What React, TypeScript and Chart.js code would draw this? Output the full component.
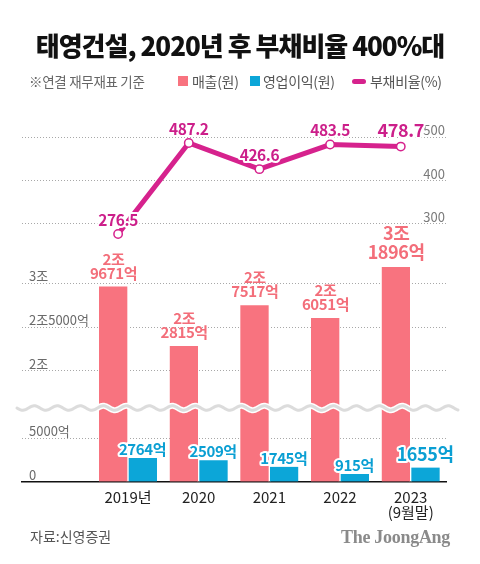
import React, { useEffect, useRef } from 'react';
import { Chart, registerables } from 'chart.js';

Chart.register(...registerables);

// ---- data (revenue / operating profit in 억원, debt ratio in %) ----
const years: (string | string[])[] = ['2019년', '2020', '2021', '2022', ['2023', '(9월말)']];
const revenue = [29671, 22815, 27517, 26051, 31896];
const opProfit = [2764, 2509, 1745, 915, 1655];
const debtRatio = [276.5, 487.2, 426.6, 483.5, 478.7];
const leftTickValues = [0, 5000, 20000, 25000, 30000];
const leftTickLabels = ['0', '5000억', '2조', '2조5000억', '3조'];
const rightTickValues = [300, 400, 500];

// ---- broken axis mapping ----
const BREAK_FROM = 10000;
const BREAK_SHIFT = 7200;
const BREAK_AT = 8500;
const toDisplay = (v: number) => (v >= BREAK_FROM ? v - BREAK_SHIFT : v);
const fmtEok = (v: number): string[] => {
  const jo = Math.floor(v / 10000);
  const eok = v % 10000;
  return jo > 0 ? [jo + '조', eok + '억'] : [eok + '억'];
};
// the debt-ratio line sits slightly left of the bar-group centre
const LINE_SHIFT = -0.14;

const PINK = '#f8737f';
const PINK_TEXT = '#f36e7a';
const BLUE = '#0ca6d8';
const BLUE_TEXT = '#0a9fd3';
const MAGENTA = '#d6228d';
const MAGENTA_TEXT = '#cc1f8a';
const FONT = "'Noto Sans CJK KR', 'Noto Sans', sans-serif";

const labelPlugin = {
  id: 'labels',
  afterDatasetsDraw(chart: any) {
    const ctx = chart.ctx as any;
    const area = chart.chartArea;
    // wavy break line
    const yb = chart.scales.y.getPixelForValue(BREAK_AT);
    const x0 = area.left - 5;
    const x1 = area.right + 12;
    const wave = () => {
      ctx.beginPath();
      for (let x = x0; x <= x1; x += 1) {
        const y = yb + 2.2 * Math.sin(((x - x0) / 23) * Math.PI * 2);
        if (x === x0) ctx.moveTo(x, y);
        else ctx.lineTo(x, y);
      }
      ctx.stroke();
    };
    ctx.save();
    ctx.lineCap = 'round';
    ctx.strokeStyle = '#ffffff';
    ctx.lineWidth = 6;
    wave();
    ctx.strokeStyle = '#dcdcdc';
    ctx.lineWidth = 3;
    wave();
    ctx.restore();

    ctx.save();
    ctx.textAlign = 'center';
    ctx.textBaseline = 'middle';
    ctx.lineJoin = 'round';
    ctx.letterSpacing = '-0.4px';
    // revenue labels
    const m0 = chart.getDatasetMeta(0);
    revenue.forEach((v, i) => {
      const el = m0.data[i];
      const big = i === revenue.length - 1;
      const fs = big ? 18 : 15;
      const lh = big ? 19 : 14;
      const lines = fmtEok(v);
      ctx.font = `700 ${fs}px ${FONT}`;
      ctx.fillStyle = PINK_TEXT;
      const yLast = el.y - (big ? 15 : 13.5);
      for (let k = lines.length - 1; k >= 0; k--) {
        ctx.fillText(lines[k], el.x, yLast - (lines.length - 1 - k) * lh);
      }
    });
    // operating profit labels
    const m1 = chart.getDatasetMeta(1);
    opProfit.forEach((v, i) => {
      const el = m1.data[i];
      const big = i === opProfit.length - 1;
      const fs = big ? 18 : 15;
      ctx.font = `700 ${fs}px ${FONT}`;
      const y = el.y - (big ? 13 : 9);
      ctx.strokeStyle = '#ffffff';
      ctx.lineWidth = 4;
      ctx.strokeText(v + '억', el.x, y);
      ctx.fillStyle = BLUE_TEXT;
      ctx.fillText(v + '억', el.x, y);
    });
    // debt ratio labels
    const m2 = chart.getDatasetMeta(2);
    debtRatio.forEach((v, i) => {
      const el = m2.data[i];
      const big = i === debtRatio.length - 1;
      const fs = big ? 18 : 15.5;
      ctx.font = `700 ${fs}px ${FONT}`;
      const y = el.y - (big ? 16 : 14);
      ctx.strokeStyle = '#ffffff';
      ctx.lineWidth = 4;
      ctx.strokeText(v.toFixed(1), el.x, y);
      ctx.fillStyle = MAGENTA_TEXT;
      ctx.fillText(v.toFixed(1), el.x, y);
    });
    ctx.restore();
  },
};

export default function App() {
  const canvasRef = useRef<HTMLCanvasElement | null>(null);

  useEffect(() => {
    if (!canvasRef.current) return;
    Chart.defaults.font.family = FONT;

    const chart = new Chart(canvasRef.current, {
      type: 'bar',
      data: {
        datasets: [
          {
            label: '매출(원)',
            data: revenue.map((v, i) => ({ x: i + 1, y: toDisplay(v) })),
            backgroundColor: PINK,
            borderColor: '#ffffff',
            borderWidth: { top: 0, right: 1, bottom: 0, left: 0 },
            borderSkipped: false,
            barThickness: 29,
            order: 2,
          } as any,
          {
            label: '영업이익(원)',
            data: opProfit.map((v, i) => ({ x: i + 1, y: v })),
            backgroundColor: BLUE,
            borderColor: '#ffffff',
            borderWidth: { top: 0, right: 0, bottom: 0, left: 1 },
            borderSkipped: false,
            barThickness: 29,
            order: 2,
          } as any,
          {
            type: 'line',
            label: '부채비율(%)',
            data: debtRatio.map((v, i) => ({ x: i + 1 + LINE_SHIFT, y: v })),
            yAxisID: 'y2',
            borderColor: MAGENTA,
            borderWidth: 5,
            pointRadius: 4.2,
            pointBackgroundColor: '#ffffff',
            pointBorderColor: MAGENTA,
            pointBorderWidth: 1.5,
            tension: 0,
            order: 1,
          } as any,
        ],
      },
      options: {
        responsive: false,
        animation: false,
        events: [],
        layout: { padding: { left: 22, right: 34, top: 92, bottom: 42 } },
        plugins: { legend: { display: false }, tooltip: { enabled: false } },
        scales: {
          x: {
            type: 'linear',
            offset: false,
            min: -0.5,
            max: years.length + 0.5,
            afterBuildTicks: (s: any) => {
              s.ticks = years.map((_y, i) => ({ value: i + 1 }));
            },
            grid: { display: false },
            border: { display: true, color: '#111111', width: 1.5 },
            ticks: {
              color: '#222222',
              font: { size: 15, lineHeight: 1.0 },
              padding: 0,
              maxRotation: 0,
              autoSkip: false,
              callback: (_v: any, i: number) => years[i],
            },
            afterFit: (s: any) => {
              s.height = 40;
            },
          },
          y: {
            type: 'linear',
            position: 'left',
            min: 0,
            max: 44800,
            afterBuildTicks: (s: any) => {
              s.ticks = leftTickValues.map((v) => ({ value: toDisplay(v) }));
            },
            ticks: {
              mirror: true,
              padding: 7,
              labelOffset: -7,
              color: '#6a6a6a',
              font: { size: 13 },
              callback: (_v: any, i: number) => leftTickLabels[i],
            },
            grid: {
              drawTicks: false,
              color: (c: any) => (c.tick && c.tick.value === 0 ? 'rgba(0,0,0,0)' : '#a8a8a8'),
              lineWidth: 1,
            },
            border: { display: false, dash: [1, 2] },
            afterFit: (s: any) => {
              s.width = 0;
            },
          },
          y2: {
            type: 'linear',
            position: 'right',
            min: -297,
            max: 605,
            afterBuildTicks: (s: any) => {
              s.ticks = rightTickValues.map((v) => ({ value: v }));
            },
            ticks: {
              mirror: true,
              padding: -1,
              labelOffset: -7,
              color: '#7a7a7a',
              font: { size: 13 },
              callback: (v: any) => String(v),
            },
            grid: { drawTicks: false, color: '#a8a8a8', lineWidth: 1 },
            border: { display: false, dash: [1, 2] },
            afterFit: (s: any) => {
              s.width = 0;
            },
          },
        },
      } as any,
      plugins: [labelPlugin],
    });
    return () => chart.destroy();
  }, []);

  const abs = (o: React.CSSProperties): React.CSSProperties => ({ position: 'absolute', ...o });
  const legendText: React.CSSProperties = {
    position: 'absolute',
    top: 72,
    fontSize: 14,
    lineHeight: '18px',
    color: '#555555',
    whiteSpace: 'nowrap',
    letterSpacing: '-0.3px',
  };

  return (
    <div
      style={{
        position: 'absolute',
        left: 0,
        top: 0,
        width: 480,
        height: 564,
        background: '#ffffff',
        fontFamily: FONT,
        overflow: 'hidden',
      }}
    >
      <canvas ref={canvasRef} width={480} height={564} style={abs({ left: 0, top: 0, width: 480, height: 564 })} />
      <div
        style={abs({
          left: 0,
          top: 27,
          width: 480,
          textAlign: 'center',
          fontSize: 26,
          fontWeight: 900,
          lineHeight: '36px',
          letterSpacing: '-1px',
          color: '#111111',
          whiteSpace: 'nowrap',
        })}
      >
        태영건설, 2020년 후 부채비율 400%대
      </div>
      <div style={{ ...legendText, left: 29, color: '#666666', fontSize: 13.5 }}>※연결 재무재표 기준</div>
      <div style={abs({ left: 178, top: 76, width: 10, height: 10, background: PINK })} />
      <div style={{ ...legendText, left: 192 }}>매출(원)</div>
      <div style={abs({ left: 250, top: 76, width: 10, height: 10, background: BLUE })} />
      <div style={{ ...legendText, left: 263 }}>영업이익(원)</div>
      <div style={abs({ left: 352, top: 78.5, width: 14, height: 5, borderRadius: 3, background: MAGENTA })} />
      <div style={{ ...legendText, left: 370 }}>부채비율(%)</div>
      <div style={abs({ left: 30, top: 527, fontSize: 14, lineHeight: '18px', color: '#555555', whiteSpace: 'nowrap' })}>
        자료:신영증권
      </div>
      <div
        style={abs({
          right: 30,
          top: 526,
          fontFamily: "'Liberation Serif', 'DejaVu Serif', serif",
          fontWeight: 700,
          fontSize: 18,
          lineHeight: '22px',
          color: '#8a8a8a',
          whiteSpace: 'nowrap',
          letterSpacing: '-0.3px',
        })}
      >
        The JoongAng
      </div>
    </div>
  );
}
